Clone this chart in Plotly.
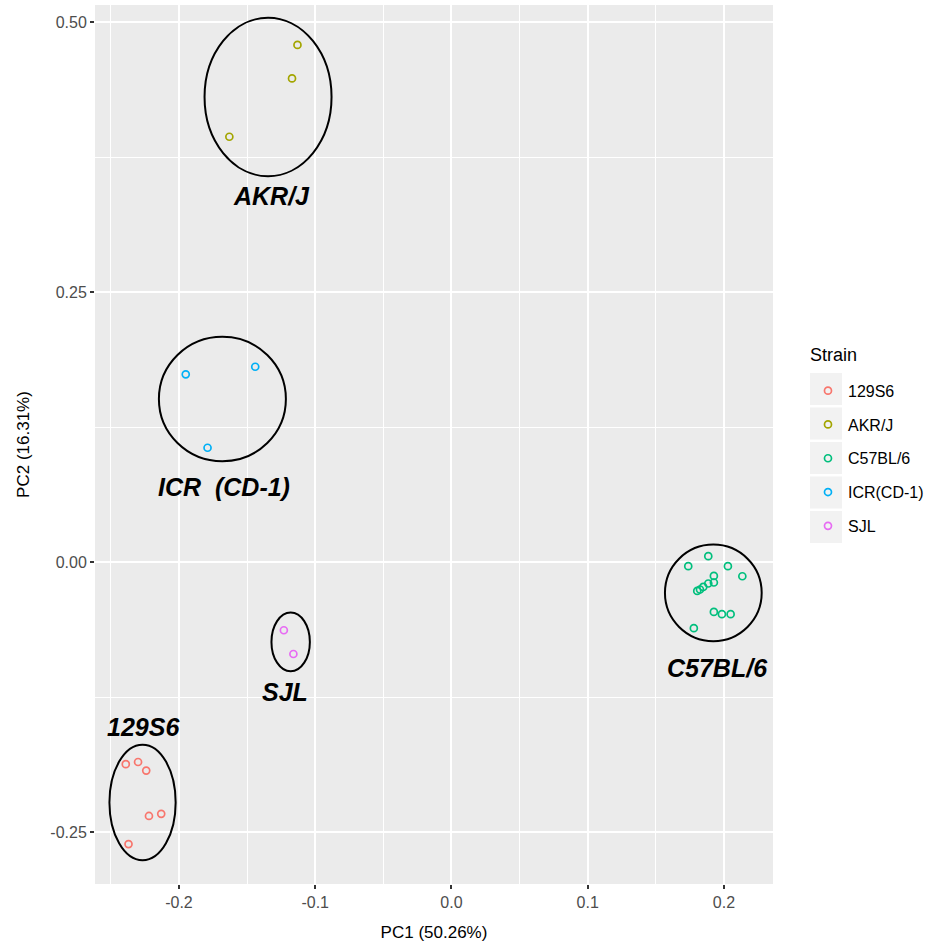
import plotly.graph_objects as go

# ---- data ----
strains = ["129S6", "AKR/J", "C57BL/6", "ICR(CD-1)", "SJL"]
colors = ["#F8766D", "#A3A500", "#00BF7D", "#00B0F6", "#E76BF3"]

pc1_129s6 = [-0.239, -0.230, -0.224, -0.222, -0.213, -0.237]
pc2_129s6 = [-0.187, -0.185, -0.193, -0.235, -0.233, -0.261]
pc1_akr = [-0.113, -0.117, -0.163]
pc2_akr = [0.479, 0.448, 0.394]
pc1_c57 = [0.1885, 0.1738, 0.2029, 0.2135, 0.1926, 0.1926, 0.1885, 0.1848,
           0.1824, 0.1804, 0.1926, 0.1985, 0.2049, 0.1779]
pc2_c57 = [0.0056, -0.0037, -0.0037, -0.0130, -0.0127, -0.0188, -0.0197, -0.0229,
           -0.0253, -0.0266, -0.0460, -0.0481, -0.0481, -0.0611]
pc1_icr = [-0.195, -0.144, -0.179]
pc2_icr = [0.174, 0.181, 0.106]
pc1_sjl = [-0.123, -0.116]
pc2_sjl = [-0.063, -0.085]

pc1_all = [pc1_129s6, pc1_akr, pc1_c57, pc1_icr, pc1_sjl]
pc2_all = [pc2_129s6, pc2_akr, pc2_c57, pc2_icr, pc2_sjl]

# group ellipses: centre x, centre y, half-width, half-height
ell_cx = [-0.2267, -0.1346, 0.1922, -0.1681, -0.1180]
ell_cy = [-0.2225, 0.4308, -0.0284, 0.1511, -0.0738]
ell_rx = [0.0243, 0.0466, 0.0355, 0.0466, 0.0141]
ell_ry = [0.0535, 0.0734, 0.0447, 0.0576, 0.0272]

# group labels
label_text = ["129S6", "AKR/J", "C57BL/6", "ICR  (CD-1)", "SJL"]
label_x = [-0.2257, -0.1324, 0.1956, -0.1669, -0.1220]
label_y = [-0.1528, 0.3390, -0.0980, 0.0694, -0.1200]

x_ticks = [-0.2, -0.1, 0.0, 0.1, 0.2]
x_ticklabels = ["-0.2", "-0.1", "0.0", "0.1", "0.2"]
y_ticks = [0.50, 0.25, 0.00, -0.25]
y_ticklabels = ["0.50", "0.25", "0.00", "-0.25"]

FONT = "Liberation Sans, Arial, sans-serif"

fig = go.Figure()
for name, col, xs, ys in zip(strains, colors, pc1_all, pc2_all):
    fig.add_trace(go.Scatter(
        x=xs, y=ys, mode="markers", name=name, legendgroup=name,
        marker=dict(symbol="circle-open", size=7, color=col, line=dict(width=1.7, color=col)),
    ))

for cx, cy, rx, ry in zip(ell_cx, ell_cy, ell_rx, ell_ry):
    fig.add_shape(type="circle", xref="x", yref="y",
                  x0=cx - rx, x1=cx + rx, y0=cy - ry, y1=cy + ry,
                  line=dict(color="black", width=2), layer="above")

for t, lx, ly in zip(label_text, label_x, label_y):
    fig.add_annotation(x=lx, y=ly, xref="x", yref="y", text="<b><i>%s</i></b>" % t,
                       showarrow=False, font=dict(family=FONT, size=25, color="black"))

axis_common = dict(
    showline=False, zeroline=False, ticks="outside", ticklen=4, tickwidth=1.5,
    tickcolor="#333333", gridcolor="white", gridwidth=2,
    tickfont=dict(family=FONT, size=16, color="#4D4D4D"),
)

fig.update_xaxes(
    range=[-0.2616, 0.236], tickmode="array", tickvals=x_ticks, ticktext=x_ticklabels,
    minor=dict(tickmode="linear", tick0=-0.25, dtick=0.1, showgrid=True,
               gridcolor="white", gridwidth=1, ticks=""),
    title=dict(text="PC1 (50.26%)", font=dict(family=FONT, size=17, color="black"), standoff=15),
    **axis_common)
fig.update_yaxes(
    range=[-0.298, 0.516], tickmode="array", tickvals=y_ticks, ticktext=y_ticklabels,
    minor=dict(tickmode="linear", tick0=-0.125, dtick=0.25, showgrid=True,
               gridcolor="white", gridwidth=1, ticks=""),
    title=dict(text="PC2 (16.31%)", font=dict(family=FONT, size=17, color="black"), standoff=16),
    **axis_common)

fig.update_layout(
    width=940, height=947,
    margin=dict(l=95, r=167, t=5, b=63),
    plot_bgcolor="#EBEBEB", paper_bgcolor="white",
    font=dict(family=FONT, color="black"),
    legend=dict(
        font=dict(family=FONT, size=16, color="black"),
        x=1.0516, xanchor="left", y=0.5805, yanchor="top",
        bgcolor="rgba(0,0,0,0)", tracegroupgap=10, traceorder="grouped",
    ),
)

# legend title
fig.add_annotation(x=(808 - 95) / 678, y=(884 - 355) / 879, xref="paper", yref="paper",
                   text="Strain", showarrow=False, xanchor="left", yanchor="middle",
                   font=dict(family=FONT, size=18, color="black"))

# grey legend key backgrounds (ggplot style)
key_top = 373
key_h = 32
key_step = 34.5
for i in range(len(strains)):
    top = key_top + i * key_step
    y1 = (884 - top) / 879
    y0 = (884 - top - key_h) / 879
    fig.add_shape(type="rect", xref="paper", yref="paper",
                  x0=(810 - 95) / 678, x1=(842 - 95) / 678, y0=y0, y1=y1,
                  fillcolor="#F2F2F2", line=dict(width=0), layer="below")

fig.write_html("out.html", config={"displayModeBar": False},
               post_script="document.body.style.margin='0';")
